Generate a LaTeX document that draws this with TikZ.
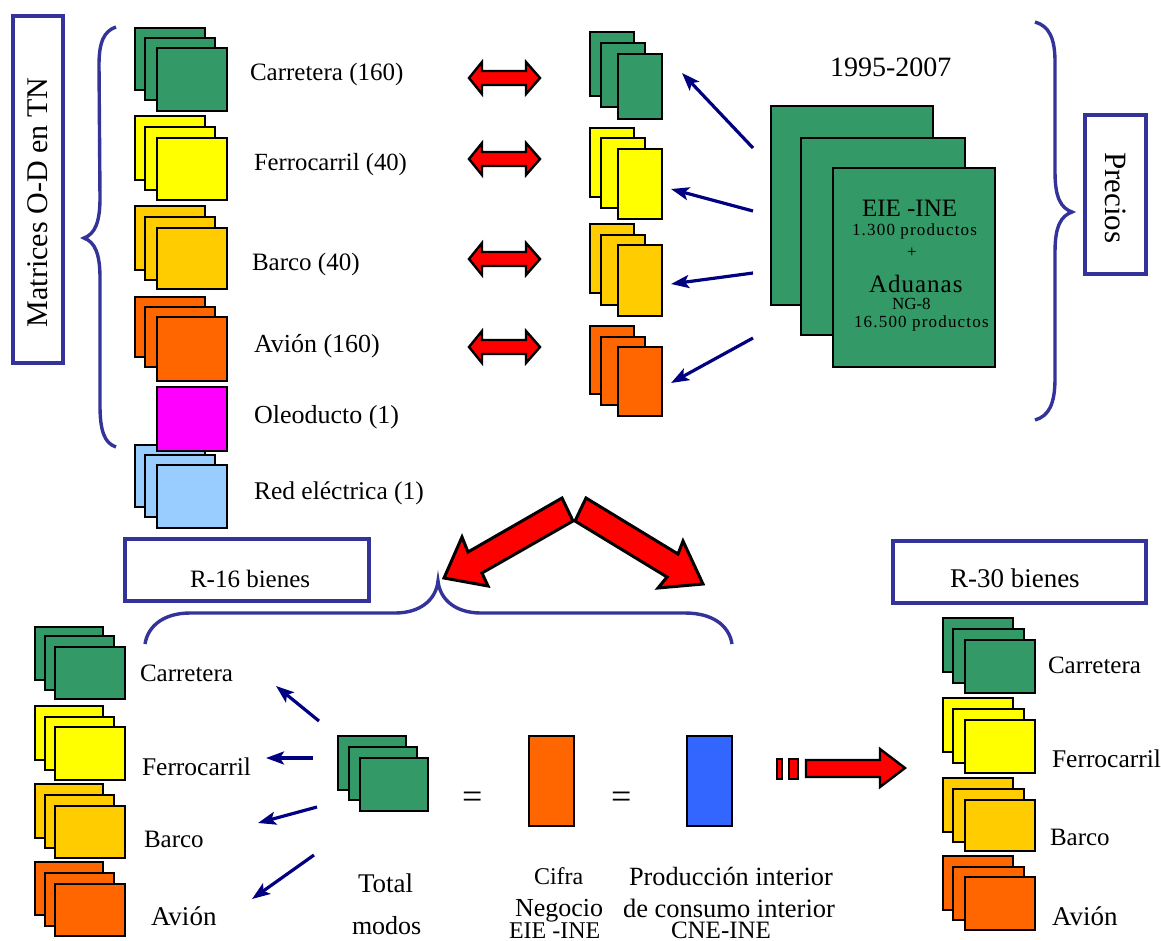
\documentclass[tikz,border=0pt]{standalone}
\usepackage{fontspec}
\setmainfont{Liberation Serif}
\usetikzlibrary{arrows.meta}
\definecolor{cgreen}{HTML}{339966}
\definecolor{cyellow}{HTML}{FFFF00}
\definecolor{camber}{HTML}{FFCC00}
\definecolor{corange}{HTML}{FF6600}
\definecolor{cmagenta}{HTML}{FF00FF}
\definecolor{clight}{HTML}{99CCFF}
\definecolor{cblue}{HTML}{3366FF}
\definecolor{cframe}{HTML}{333399}
\definecolor{cnavy}{HTML}{000080}
\newcommand{\fs}[1]{\fontsize{#1}{#1}\selectfont}
\tikzset{
  sheet/.style={draw=black,line width=1.8pt,inner sep=0pt,outer sep=0pt},
  framebox/.style={draw=cframe,line width=3.2pt,inner sep=0pt,outer sep=0pt,fill=white},
  lab/.style={inner sep=0pt,outer sep=0pt,anchor=base west,font=\fs{25}},
  brace/.style={draw=cframe,line width=3.4pt},
  navyarrow/.style={draw=cnavy,line width=3.2pt,-{Stealth[length=18pt,width=13pt,inset=4pt]}},
  redshape/.style={draw=black,fill=red,line width=2.4pt,line join=miter},
}
\newcommand{\sheet}[6]{\node[sheet,fill=#6,minimum width={(#4-#2)*1pt},minimum height={(#5-#3)*1pt}] (#1) at ({(#2+#4)/2},{(#3+#5)/2}) {};}
\newcommand{\frm}[5]{\node[framebox,minimum width={(#4-#2)*1pt},minimum height={(#5-#3)*1pt}] (#1) at ({(#2+#4)/2},{(#3+#5)/2}) {};}
\newcommand{\dbl}[1]{\draw[redshape] (469,#1) -- (482,#1-16) -- (482,#1-7) -- (526,#1-7) -- (526,#1-16) -- (540,#1) -- (526,#1+16) -- (526,#1+7) -- (482,#1+7) -- (482,#1+16) -- cycle;}
\begin{document}
\begin{tikzpicture}[x=1pt,y=-1pt]
\useasboundingbox (0,0) rectangle (1161,940);
% frames
\frm{fm}{13}{16}{63}{363}
\frm{fp}{1085}{115}{1146}{274}
\frm{fa}{125}{539}{369}{601}
\frm{fb}{893}{541}{1146}{603}
% braces
\draw[brace] (116,27) .. controls (104,31) and (99,42) .. (99,65) -- (100,198) .. controls (100,222) and (95,234) .. (84,238) .. controls (95,242) and (100,254) .. (100,278) -- (100,405) .. controls (100,430) and (104,443) .. (116,447);
\draw[brace] (1035,22) .. controls (1049,26) and (1055,38) .. (1055,62) -- (1055,172) .. controls (1055,198) and (1061,208) .. (1072,212) .. controls (1061,216) and (1055,226) .. (1055,252) -- (1055,378) .. controls (1055,404) and (1049,416) .. (1035,420);
\draw[brace] (145,644) .. controls (148,625) and (165,613) .. (190,613) -- (395,613) .. controls (420,613) and (436,600) .. (438,581) .. controls (440,600) and (456,613) .. (481,613) -- (685,613) .. controls (712,613) and (729,625) .. (732,644);
% top-left stacks
\sheet{a1}{135}{28}{205}{90}{cgreen}\sheet{a2}{145}{38}{215}{100}{cgreen}\sheet{a3}{157}{48}{227}{111}{cgreen}
\sheet{b1}{135}{116}{205}{180}{cyellow}\sheet{b2}{145}{127}{215}{190}{cyellow}\sheet{b3}{157}{138}{227}{200}{cyellow}
\sheet{c1}{135}{206}{205}{270}{camber}\sheet{c2}{145}{217}{215}{280}{camber}\sheet{c3}{157}{228}{227}{289}{camber}
\sheet{d1}{135}{297}{205}{357}{corange}\sheet{d2}{145}{307}{215}{367}{corange}\sheet{d3}{157}{317}{227}{381}{corange}
\sheet{f1}{135}{445}{205}{507}{clight}\sheet{f2}{145}{455}{215}{517}{clight}\sheet{f3}{157}{465}{227}{528}{clight}
\sheet{e1}{157}{387}{227}{451}{cmagenta}
% top-middle stacks
\sheet{g1}{590}{32}{634}{96}{cgreen}\sheet{g2}{601}{43}{645}{107}{cgreen}\sheet{g3}{618}{54}{662}{119}{cgreen}
\sheet{h1}{590}{128}{634}{197}{cyellow}\sheet{h2}{601}{138}{645}{208}{cyellow}\sheet{h3}{618}{149}{662}{219}{cyellow}
\sheet{i1}{590}{224}{634}{293}{camber}\sheet{i2}{601}{235}{645}{305}{camber}\sheet{i3}{618}{245}{662}{316}{camber}
\sheet{j1}{590}{326}{634}{394}{corange}\sheet{j2}{601}{337}{645}{405}{corange}\sheet{j3}{618}{347}{662}{416}{corange}
% big stack
\sheet{k1}{771}{106}{933}{305}{cgreen}\sheet{k2}{801}{138}{965}{335}{cgreen}\sheet{k3}{833}{168}{995}{367}{cgreen}
% bottom-left stacks
\sheet{l1}{35}{627}{103}{680}{cgreen}\sheet{l2}{45}{636}{114}{690}{cgreen}\sheet{l3}{55}{647}{125}{699}{cgreen}
\sheet{m1}{35}{706}{103}{760}{cyellow}\sheet{m2}{45}{717}{114}{770}{cyellow}\sheet{m3}{55}{727}{125}{780}{cyellow}
\sheet{n1}{35}{784}{103}{838}{camber}\sheet{n2}{45}{795}{114}{848}{camber}\sheet{n3}{55}{806}{125}{858}{camber}
\sheet{o1}{35}{862}{103}{915}{corange}\sheet{o2}{45}{873}{114}{926}{corange}\sheet{o3}{55}{884}{125}{936}{corange}
% total modes and equal rectangles
\sheet{t1}{338}{736}{406}{790}{cgreen}\sheet{t2}{349}{747}{417}{800}{cgreen}\sheet{t3}{360}{758}{428}{811}{cgreen}
\sheet{u}{529}{736}{574}{826}{corange}
\sheet{v}{687}{736}{732}{826}{cblue}
% right stacks
\sheet{p1}{943}{618}{1013}{672}{cgreen}\sheet{p2}{953}{629}{1024}{683}{cgreen}\sheet{p3}{965}{640}{1035}{693}{cgreen}
\sheet{q1}{943}{698}{1013}{752}{cyellow}\sheet{q2}{953}{709}{1024}{763}{cyellow}\sheet{q3}{965}{720}{1035}{773}{cyellow}
\sheet{r1}{943}{778}{1013}{832}{camber}\sheet{r2}{953}{789}{1024}{842}{camber}\sheet{r3}{965}{800}{1035}{851}{camber}
\sheet{s1}{943}{856}{1013}{910}{corange}\sheet{s2}{953}{867}{1024}{920}{corange}\sheet{s3}{965}{877}{1035}{930}{corange}
% red arrows
\dbl{78}\dbl{159}\dbl{259}\dbl{347}
\draw[redshape,line width=3pt] (562,498) -- (573,521) -- (482,573) -- (488,586) -- (444,578) -- (462,537) -- (468,552) -- cycle;
\draw[redshape,line width=3pt] (586,498) -- (575,521) -- (667,577) -- (658,588) -- (703,584) -- (683,541) -- (678,554) -- cycle;
\draw[redshape] (777,759) rectangle (782,779);
\draw[redshape] (789,759) rectangle (798,779);
\draw[redshape] (806,760) -- (880,760) -- (880,749) -- (905,768) -- (880,787) -- (880,777) -- (806,777) -- cycle;
% navy arrows
\coordinate (n1s) at (753,148); \coordinate (n1e) at (682,73);
\coordinate (n2s) at (753,211); \coordinate (n2e) at (671,189);
\coordinate (n3s) at (753,273); \coordinate (n3e) at (671,284);
\coordinate (n4s) at (753,338); \coordinate (n4e) at (671,383);
\coordinate (n5s) at (319,721); \coordinate (n5e) at (276,686);
\coordinate (n6s) at (313,758); \coordinate (n6e) at (266,758);
\coordinate (n7s) at (317,807); \coordinate (n7e) at (258,823);
\coordinate (n8s) at (314,855); \coordinate (n8e) at (252,899);
\foreach \i in {1,...,8}{\draw[navyarrow] (n\i s) -- (n\i e);}
% labels
\node[lab,font=\fs{30},rotate=90] (tm) at (47,327) {Matrices O-D en TN};
\node[lab,font=\fs{31},rotate=-90] (tp) at (1105,152) {Precios};
\node[lab] (t1a) at (250,80) {Carretera (160)};
\node[lab,font=\fs{24.7}] (t2a) at (254,170) {Ferrocarril (40)};
\node[lab] (t3a) at (252,270) {Barco (40)};
\node[lab,font=\fs{26}] (t4a) at (254,352) {Avión (160)};
\node[lab,font=\fs{26}] (t5a) at (254,423) {Oleoducto (1)};
\node[lab,font=\fs{25.5}] (t6a) at (254,499) {Red eléctrica (1)};
\node[lab,font=\fs{28}] (yr) at (830,76) {1995-2007};
\node[lab] (bx1) at (862,216) {EIE -INE};
\node[lab,font=\fs{17}\addfontfeatures{LetterSpace=7}] (bx2) at (852,235) {1.300 productos};
\node[lab,font=\fs{17}] (bx3) at (907,257) {+};
\node[lab,font=\fs{25}\addfontfeatures{LetterSpace=4}] (bx4) at (869,292) {Aduanas};
\node[lab,font=\fs{17}] (bx5) at (892,309) {NG-8};
\node[lab,font=\fs{17}\addfontfeatures{LetterSpace=7}] (bx6) at (854,327) {16.500 productos};
\node[lab] (r16) at (190,587) {R-16 bienes};
\node[lab,font=\fs{27}] (r30) at (950,587) {R-30 bienes};
\node[lab] (t1b) at (140,681) {Carretera};
\node[lab,font=\fs{25.5}] (t2b) at (142,775) {Ferrocarril};
\node[lab] (t3b) at (144,847) {Barco};
\node[lab,font=\fs{27}] (t4b) at (151,925) {Avión};
\node[lab] (t1c) at (1048,673) {Carretera};
\node[lab,font=\fs{25.5}] (t2c) at (1052,767) {Ferrocarril};
\node[lab] (t3c) at (1050,845) {Barco};
\node[lab,font=\fs{27}] (t4c) at (1052,925) {Avión};
\node[lab,font=\fs{27}] (to1) at (358,892) {Total};
\node[lab,font=\fs{26}] (to2) at (352,934) {modos};
\node[lab,font=\fs{36}] (eq1) at (462,808) {=};
\node[lab,font=\fs{36}] (eq2) at (611,808) {=};
\node[lab,font=\fs{24}] (ci1) at (534,884) {Cifra};
\node[lab,font=\fs{26}] (ci2) at (515,916) {Negocio};
\node[lab,font=\fs{24}] (ci3) at (509,938) {EIE -INE};
\node[lab,font=\fs{26.3}] (pr1) at (629,885) {Producción interior};
\node[lab,font=\fs{26.5}] (pr2) at (623,917) {de consumo interior};
\node[lab] (pr3) at (671,938) {CNE-INE};
\end{tikzpicture}
\end{document}
